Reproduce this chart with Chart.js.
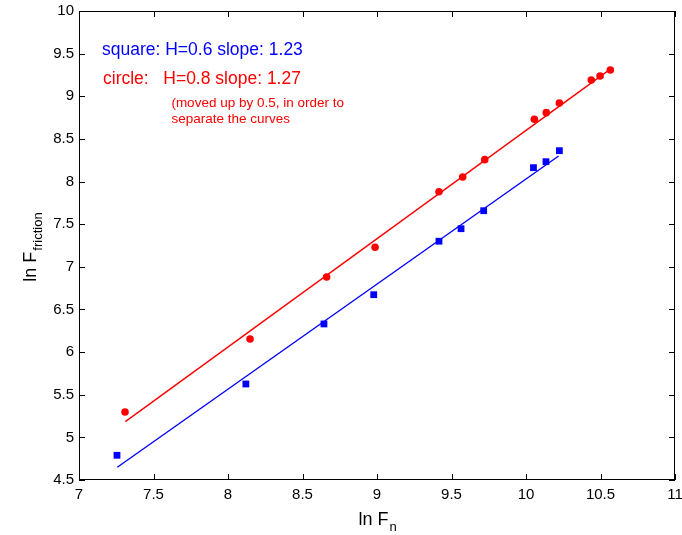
<!DOCTYPE html>
<html>
<head>
<meta charset="utf-8">
<script src="https://cdn.jsdelivr.net/npm/chart.js@4.4.1/dist/chart.umd.min.js"></script>
<style>
  html, body { margin: 0; padding: 0; background: #fff; }
  #wrap { width: 682px; height: 535px; position: relative; }
</style>
</head>
<body>
<div id="wrap"><canvas id="frictionChart"></canvas></div>
<script>
// ln F_n vs ln F_friction
const squareX = [7.255, 8.12, 8.644, 8.978, 9.416, 9.564, 9.716, 10.05, 10.134, 10.224];
const squareY = [4.79, 5.626, 6.33, 6.673, 7.30, 7.447, 7.658, 8.163, 8.233, 8.362];

const circleX = [7.309, 8.148, 8.662, 8.987, 9.416, 9.575, 9.723, 10.056, 10.136, 10.224, 10.438, 10.497, 10.566];
const circleY = [5.297, 6.154, 6.881, 7.229, 7.881, 8.053, 8.257, 8.730, 8.808, 8.921, 9.191, 9.238, 9.308];

// fitted lines (end points)
const squareFitX = [7.257, 10.219];
const squareFitY = [4.649, 8.30];
const circleFitX = [7.311, 10.566];
const circleFitY = [5.184, 9.318];

const xTicks = [7, 7.5, 8, 8.5, 9, 9.5, 10, 10.5, 11];
const yTicks = [4.5, 5, 5.5, 6, 6.5, 7, 7.5, 8, 8.5, 9, 9.5, 10];

const notes = [
  { x: 7.154, y: 9.484, text: 'square: H=0.6 slope: 1.23', color: '#0000ff', size: 17.5 },
  { x: 7.161, y: 9.14, text: 'circle:   H=0.8 slope: 1.27', color: '#ff0000', size: 17.5 },
  { x: 7.62, y: 8.875, text: '(moved up by 0.5, in order to', color: '#ff0000', size: 13.5 },
  { x: 7.62, y: 8.69, text: 'separate the curves', color: '#ff0000', size: 13.5 }
];

const FONT = '"Liberation Sans", Arial, Helvetica, sans-serif';
const pts = (xs, ys) => xs.map((x, i) => ({ x, y: ys[i] }));

// frame, inward ticks, annotation text and subscripted axis titles
const matlabAxes = {
  id: 'matlabAxes',
  afterDraw(chart) {
    const { ctx, chartArea: a, scales } = chart;
    const xs = scales.x, ys = scales.y;
    const tl = 6;
    ctx.save();
    ctx.strokeStyle = '#000';
    ctx.lineWidth = 1;
    ctx.strokeRect(a.left + 0.5, a.top + 0.5, a.right - a.left - 1, a.bottom - a.top - 1);
    ctx.beginPath();
    xTicks.forEach(v => {
      const px = Math.round(xs.getPixelForValue(v)) + 0.5;
      ctx.moveTo(px, a.bottom); ctx.lineTo(px, a.bottom - tl);
      ctx.moveTo(px, a.top); ctx.lineTo(px, a.top + tl);
    });
    yTicks.forEach(v => {
      const py = Math.round(ys.getPixelForValue(v)) + 0.5;
      ctx.moveTo(a.left, py); ctx.lineTo(a.left + tl, py);
      ctx.moveTo(a.right, py); ctx.lineTo(a.right - tl, py);
    });
    ctx.stroke();

    ctx.textBaseline = 'alphabetic';
    ctx.textAlign = 'left';
    notes.forEach(n => {
      ctx.fillStyle = n.color;
      ctx.font = n.size + 'px ' + FONT;
      ctx.fillText(n.text, xs.getPixelForValue(n.x), ys.getPixelForValue(n.y));
    });

    const drawSub = (main, sub, cx, by) => {
      ctx.font = '18px ' + FONT;
      const w1 = ctx.measureText(main).width;
      ctx.font = '13px ' + FONT;
      const w2 = ctx.measureText(sub).width;
      const x0 = cx - (w1 + w2) / 2;
      ctx.fillStyle = '#000';
      ctx.font = '18px ' + FONT;
      ctx.fillText(main, x0, by);
      ctx.font = '13px ' + FONT;
      ctx.fillText(sub, x0 + w1 + 1, by + 6);
    };
    drawSub('ln F', 'n', (a.left + a.right) / 2, 525);

    ctx.translate(36, (a.top + a.bottom) / 2 + 2);
    ctx.rotate(-Math.PI / 2);
    drawSub('ln F', 'friction', 0, 0);
    ctx.restore();
  }
};

const noOverhang = s => { s.paddingLeft = 0; s.paddingRight = 0; s.paddingTop = 0; s.paddingBottom = 0; };

new Chart(document.getElementById('frictionChart'), {
  type: 'scatter',
  data: {
    datasets: [
      {
        label: 'square fit',
        type: 'line',
        data: pts(squareFitX, squareFitY),
        borderColor: '#0000ff',
        borderWidth: 1.4,
        pointRadius: 0,
        fill: false,
        tension: 0
      },
      {
        label: 'circle fit',
        type: 'line',
        data: pts(circleFitX, circleFitY),
        borderColor: '#ff0000',
        borderWidth: 1.4,
        pointRadius: 0,
        fill: false,
        tension: 0
      },
      {
        label: 'square',
        data: pts(squareX, squareY),
        pointStyle: 'rect',
        pointRadius: 4.8,
        backgroundColor: '#0000ff',
        borderColor: '#0000ff',
        borderWidth: 0
      },
      {
        label: 'circle',
        data: pts(circleX, circleY),
        pointStyle: 'circle',
        pointRadius: 3.8,
        backgroundColor: '#ff0000',
        borderColor: '#ff0000',
        borderWidth: 0
      }
    ]
  },
  options: {
    responsive: true,
    maintainAspectRatio: false,
    animation: false,
    layout: { padding: { left: 0, top: 11, right: 7, bottom: 0 } },
    plugins: {
      legend: { display: false },
      tooltip: { enabled: false }
    },
    scales: {
      x: {
        type: 'linear',
        min: 7,
        max: 11,
        afterBuildTicks: s => { s.ticks = xTicks.map(v => ({ value: v })); },
        afterFit: s => { s.height = 55; noOverhang(s); },
        ticks: { color: '#000', padding: 6, font: { family: FONT, size: 15 }, maxRotation: 0, callback: v => String(v) },
        grid: { display: false, drawTicks: false },
        border: { display: false }
      },
      y: {
        type: 'linear',
        min: 4.5,
        max: 10,
        afterBuildTicks: s => { s.ticks = yTicks.map(v => ({ value: v })); },
        afterFit: s => { s.width = 79; noOverhang(s); },
        ticks: { color: '#000', padding: 5, font: { family: FONT, size: 15 }, callback: v => String(v) },
        grid: { display: false, drawTicks: false },
        border: { display: false }
      }
    }
  },
  plugins: [matlabAxes]
});
</script>
</body>
</html>
